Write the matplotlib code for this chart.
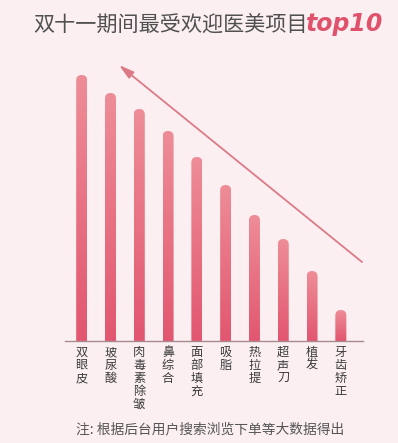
import numpy as np
import matplotlib
matplotlib.use("Agg")
import matplotlib.pyplot as plt
from matplotlib.patches import FancyBboxPatch
from matplotlib.colors import LinearSegmentedColormap
from matplotlib import font_manager

plt.rcParams['font.family'] = ['Noto Sans CJK SC', 'DejaVu Sans']

categories = ["双眼皮", "玻尿酸", "肉毒素除皱", "鼻综合", "面部填充",
              "吸脂", "热拉提", "超声刀", "植发", "牙齿矫正"]
values = [266, 248, 232, 210, 184, 156, 126, 102, 70, 31]
title = "双十一期间最受欢迎医美项目"
title_tag = "top10"
footnote = "注: 根据后台用户搜索浏览下单等大数据得出"

W, H = 398, 443
bg = "#fbeff1"
fig = plt.figure(figsize=(W / 100, H / 100), dpi=100, facecolor=bg)

ax_l, ax_r, ax_b, ax_t = 65, 363, 341, 60
ax = fig.add_axes([ax_l / W, 1 - ax_b / H, (ax_r - ax_l) / W, (ax_b - ax_t) / H])
ax.set_facecolor("none")
ax.set_xlim(-0.58, 9.77)
ax.set_ylim(0, 281)
for s in ["top", "right", "left"]:
    ax.spines[s].set_visible(False)
ax.spines["bottom"].set_color("#a98a90")
ax.spines["bottom"].set_linewidth(1.0)
ax.set_xticks([])
ax.set_yticks([])

px_per_x = (ax_r - ax_l) / (9.77 + 0.58)
px_per_y = (ax_b - ax_t) / 281
aspect = px_per_x / px_per_y

cmap = LinearSegmentedColormap.from_list("g", ["#e25670", "#ee8d97"])
grad = np.linspace(0, 1, 256).reshape(-1, 1)
bw = 11 / px_per_x
r = bw / 2
x = np.arange(len(values))
for xi, v in zip(x, values):
    p = FancyBboxPatch((xi - bw / 2, -20), bw, v + 20,
                       boxstyle=f"round,pad=0,rounding_size={r}",
                       mutation_aspect=aspect, facecolor="none", edgecolor="none")
    ax.add_patch(p)
    im = ax.imshow(grad, cmap=cmap, origin="lower", aspect="auto",
                   extent=(xi - bw / 2, xi + bw / 2, 0, v), vmin=0, vmax=1, zorder=2)
    im.set_clip_path(p)
ax.set_xlim(-0.58, 9.77)
ax.set_ylim(0, 281)

# vertical labels
for xi, c in zip(x, categories):
    ax.text(xi, -5, "\n".join(c), ha="center", va="top", fontsize=8.8,
            color="#3c3c3c", linespacing=1.0, clip_on=False)

# arrow
ax.annotate("", xy=(119 / W, 1 - 65 / H), xytext=(362 / W, 1 - 262 / H),
            xycoords="figure fraction", textcoords="figure fraction",
            arrowprops=dict(arrowstyle="-|>,head_length=0.9,head_width=0.25",
                            color="#dd7a88", lw=1.3, shrinkA=0, shrinkB=0))

# title
fig.text(33 / W, 1 - 25 / H, title, ha="left", va="center", fontsize=15.2, color="#505050")
names = {f.name for f in font_manager.fontManager.ttflist}
tag_family = ["Liberation Sans Narrow", "DejaVu Sans"] if "Liberation Sans Narrow" in names else ["DejaVu Sans"]
fig.text(306 / W, 1 - 24 / H, title_tag, ha="left", va="center", fontsize=21 if len(tag_family) > 1 else 17,
         color="#e0526b", fontweight="bold", style="italic", family=tag_family)

fig.text(210 / W, 1 - 429 / H, footnote, ha="center", va="center", fontsize=9.9, color="#555555")

fig.savefig("out.png", dpi=100, facecolor=bg)
